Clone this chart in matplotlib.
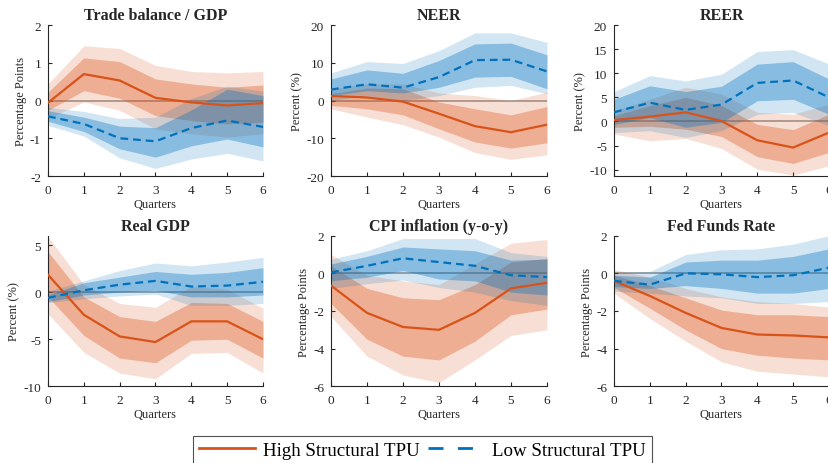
import matplotlib
matplotlib.use("Agg")
import matplotlib.pyplot as plt
from matplotlib.lines import Line2D

plt.rcParams['font.family'] = ['Liberation Serif', 'DejaVu Serif']
plt.rcParams['axes.unicode_minus'] = False

quarters = [0, 1, 2, 3, 4, 5, 6]

titles = ["Trade balance / GDP", "NEER", "REER", "Real GDP", "CPI inflation (y-o-y)", "Fed Funds Rate"]
ylabels = ["Percentage Points", "Percent (%)", "Percent (%)", "Percent (%)", "Percentage Points", "Percentage Points"]
series_names = ["High Structural TPU", "Low Structural TPU"]

# ---- Trade balance / GDP ----
tb_high = [-0.06, 0.70, 0.53, 0.07, -0.05, -0.13, -0.07]
tb_high_in_lo = [-0.26, 0.26, 0.06, -0.40, -0.53, -0.62, -0.57]
tb_high_in_hi = [0.22, 1.13, 1.03, 0.57, 0.44, 0.35, 0.41]
tb_high_out_lo = [-0.48, -0.04, -0.26, -0.75, -0.88, -0.97, -0.88]
tb_high_out_hi = [0.44, 1.45, 1.38, 0.93, 0.77, 0.73, 0.77]
tb_low = [-0.42, -0.62, -1.00, -1.08, -0.73, -0.53, -0.70]
tb_low_in_lo = [-0.55, -0.82, -1.28, -1.50, -1.20, -1.02, -1.23]
tb_low_in_hi = [-0.27, -0.44, -0.68, -0.72, -0.25, 0.30, 0.13]
tb_low_out_lo = [-0.66, -0.94, -1.52, -1.80, -1.55, -1.40, -1.60]
tb_low_out_hi = [-0.18, -0.29, -0.48, -0.44, 0.05, 0.38, 0.25]

# ---- NEER ----
ne_high = [1.2, 0.8, -0.3, -3.5, -6.8, -8.4, -6.4]
ne_high_in_lo = [-1.3, -2.2, -3.8, -7.5, -11.0, -12.6, -11.2]
ne_high_in_hi = [1.8, 3.3, 3.1, -0.4, -2.2, -3.8, -1.6]
ne_high_out_lo = [-2.2, -4.4, -6.4, -9.7, -13.8, -15.6, -14.4]
ne_high_out_hi = [3.1, 4.4, 4.4, 2.0, 1.3, 0.0, 2.2]
ne_low = [2.9, 4.3, 3.4, 6.2, 10.7, 10.8, 7.7]
ne_low_in_lo = [1.3, 2.6, 2.0, 3.5, 6.2, 6.4, 3.1]
ne_low_in_hi = [5.7, 8.1, 7.2, 10.6, 15.0, 15.2, 12.1]
ne_low_out_lo = [0.0, 1.3, 0.0, 1.3, 3.5, 4.0, 1.8]
ne_low_out_hi = [7.3, 10.3, 9.8, 13.2, 17.9, 17.9, 15.4]

# ---- REER ----
re_high = [0.3, 1.0, 1.9, 0.1, -3.9, -5.4, -2.3]
re_high_in_lo = [-1.2, -1.0, -1.6, -3.1, -7.3, -8.7, -6.4]
re_high_in_hi = [1.2, 3.3, 5.0, 3.3, -0.6, -1.7, 1.5]
re_high_out_lo = [-2.6, -4.0, -3.5, -5.6, -9.9, -11.1, -9.2]
re_high_out_hi = [2.2, 4.6, 7.1, 5.7, 1.9, 1.5, 3.6]
re_low = [1.9, 3.9, 2.4, 3.5, 8.0, 8.5, 5.0]
re_low_in_lo = [-0.6, 0.8, -1.2, -0.2, 4.3, 4.6, 1.5]
re_low_in_hi = [4.6, 7.4, 6.2, 7.3, 11.9, 12.4, 8.8]
re_low_out_lo = [-2.3, -1.9, -3.3, -1.9, 1.5, 1.9, -0.9]
re_low_out_hi = [6.2, 9.5, 8.4, 9.8, 14.5, 14.9, 11.9]

# ---- Real GDP ----
gd_high = [1.85, -2.4, -4.7, -5.3, -3.1, -3.1, -5.0]
gd_high_in_lo = [-0.5, -4.6, -7.0, -7.5, -5.1, -5.0, -7.0]
gd_high_in_hi = [4.3, -0.5, -2.6, -3.1, -1.1, -1.2, -3.1]
gd_high_out_lo = [-2.3, -6.4, -8.6, -9.2, -6.5, -6.4, -8.6]
gd_high_out_hi = [5.9, 0.8, -1.2, -1.6, 0.6, 0.3, -1.7]
gd_low = [-0.6, 0.2, 0.8, 1.2, 0.6, 0.7, 1.1]
gd_low_in_lo = [-1.0, -0.3, 0.0, 0.2, -0.5, -0.5, -0.3]
gd_low_in_hi = [-0.3, 1.0, 1.6, 2.2, 1.9, 2.1, 2.6]
gd_low_out_lo = [-1.1, -0.7, -0.4, -0.2, -1.4, -1.4, -1.2]
gd_low_out_hi = [0.1, 1.2, 2.3, 3.1, 2.8, 3.2, 3.7]

# ---- CPI inflation ----
cp_high = [-0.65, -2.1, -2.85, -3.0, -2.1, -0.8, -0.5]
cp_high_in_lo = [-1.6, -3.5, -4.4, -4.6, -3.6, -2.2, -1.9]
cp_high_in_hi = [0.4, -0.8, -1.3, -1.4, -0.6, 0.6, 0.8]
cp_high_out_lo = [-2.3, -4.4, -5.4, -5.8, -4.6, -3.3, -3.0]
cp_high_out_hi = [1.0, -0.1, -0.4, -0.6, 0.5, 1.6, 1.8]
cp_low = [0.05, 0.4, 0.8, 0.6, 0.4, -0.1, -0.2]
cp_low_in_lo = [-0.4, -0.2, 0.15, -0.3, -0.4, -1.0, -1.15]
cp_low_in_hi = [0.5, 0.9, 1.4, 1.3, 1.2, 0.7, 0.75]
cp_low_out_lo = [-0.8, -0.55, -0.35, -0.75, -1.0, -1.45, -1.7]
cp_low_out_hi = [0.75, 1.2, 1.85, 1.85, 1.85, 1.1, 0.9]

# ---- Fed Funds Rate ----
ff_high = [-0.4, -1.2, -2.1, -2.9, -3.25, -3.3, -3.4]
ff_high_in_lo = [-0.75, -1.85, -3.0, -4.0, -4.35, -4.5, -4.6]
ff_high_in_hi = [-0.1, -0.65, -1.3, -1.95, -2.2, -2.2, -2.3]
ff_high_out_lo = [-1.05, -2.4, -3.6, -4.7, -5.2, -5.35, -5.5]
ff_high_out_hi = [0.2, -0.2, -0.8, -1.25, -1.5, -1.6, -1.8]
ff_low = [-0.4, -0.6, 0.0, -0.05, -0.2, -0.1, 0.3]
ff_low_in_lo = [-0.7, -0.8, -0.65, -0.8, -1.05, -1.05, -0.8]
ff_low_in_hi = [-0.1, -0.2, 0.6, 0.7, 0.7, 0.9, 1.3]
ff_low_out_lo = [-0.95, -1.05, -1.2, -1.3, -1.6, -1.6, -1.5]
ff_low_out_hi = [0.05, 0.1, 1.0, 1.25, 1.3, 1.55, 2.0]

panels = [
    (tb_high, tb_high_in_lo, tb_high_in_hi, tb_high_out_lo, tb_high_out_hi,
     tb_low, tb_low_in_lo, tb_low_in_hi, tb_low_out_lo, tb_low_out_hi),
    (ne_high, ne_high_in_lo, ne_high_in_hi, ne_high_out_lo, ne_high_out_hi,
     ne_low, ne_low_in_lo, ne_low_in_hi, ne_low_out_lo, ne_low_out_hi),
    (re_high, re_high_in_lo, re_high_in_hi, re_high_out_lo, re_high_out_hi,
     re_low, re_low_in_lo, re_low_in_hi, re_low_out_lo, re_low_out_hi),
    (gd_high, gd_high_in_lo, gd_high_in_hi, gd_high_out_lo, gd_high_out_hi,
     gd_low, gd_low_in_lo, gd_low_in_hi, gd_low_out_lo, gd_low_out_hi),
    (cp_high, cp_high_in_lo, cp_high_in_hi, cp_high_out_lo, cp_high_out_hi,
     cp_low, cp_low_in_lo, cp_low_in_hi, cp_low_out_lo, cp_low_out_hi),
    (ff_high, ff_high_in_lo, ff_high_in_hi, ff_high_out_lo, ff_high_out_hi,
     ff_low, ff_low_in_lo, ff_low_in_hi, ff_low_out_lo, ff_low_out_hi),
]

ylims = [(-2, 2), (-20, 20), (-11.3, 20), (-10, 6), (-6, 2), (-6, 2)]
yticks = [[-2, -1, 0, 1, 2], [-20, -10, 0, 10, 20], [-10, -5, 0, 5, 10, 15, 20],
          [-10, -5, 0, 5], [-6, -4, -2, 0, 2], [-6, -4, -2, 0, 2]]

ORANGE = '#D95319'
BLUE = '#0072BD'
AXC = '#262626'

W, H = 829, 464
fig = plt.figure(figsize=(W / 100, H / 100), dpi=100)

lefts = [48, 331, 614]
widths = [215, 216, 215]
tops = [26, 236.7]
heights = [151, 150.6]

for i in range(6):
    r, c = divmod(i, 3)
    ax = fig.add_axes([lefts[c] / W, 1 - (tops[r] + heights[r]) / H,
                       widths[c] / W, heights[r] / H])
    (h, hil, hih, hol, hoh, l, lil, lih, lol, loh) = panels[i]
    ax.axhline(0, color='#999999', lw=1.2, zorder=1)
    ax.fill_between(quarters, hol, hoh, color=ORANGE, alpha=0.18, lw=0, zorder=2)
    ax.fill_between(quarters, hil, hih, color=ORANGE, alpha=0.35, lw=0, zorder=2)
    ax.fill_between(quarters, lol, loh, color=BLUE, alpha=0.18, lw=0, zorder=2)
    ax.fill_between(quarters, lil, lih, color=BLUE, alpha=0.35, lw=0, zorder=2)
    ax.plot(quarters, h, color=ORANGE, lw=1.6, zorder=4)
    ax.plot(quarters, l, color=BLUE, lw=1.6, dashes=(3.5, 2.2), zorder=4)
    ax.set_xlim(0, 6)
    ax.set_ylim(*ylims[i])
    ax.set_xticks(quarters)
    ax.set_yticks(yticks[i])
    ax.set_title(titles[i], fontsize=11.5, fontweight='bold', pad=4, color=AXC)
    ax.set_xlabel("Quarters", fontsize=9, color=AXC, labelpad=1.5)
    ax.set_ylabel(ylabels[i], fontsize=9, color=AXC, labelpad=2)
    for s in ['top', 'right']:
        ax.spines[s].set_visible(False)
    for s in ['left', 'bottom']:
        ax.spines[s].set_color(AXC)
        ax.spines[s].set_linewidth(0.8)
    ax.tick_params(direction='in', length=3, width=0.8, colors=AXC, labelsize=9.5)
    ax.tick_params(axis='x', pad=5.5)
    ax.tick_params(axis='y', pad=5)
    ax.set_facecolor('none')

handles = [Line2D([], [], color=ORANGE, lw=2),
           Line2D([], [], color=BLUE, lw=2, dashes=(5.4, 5.2))]
leg = fig.legend(handles, series_names, loc='upper left',
                 bbox_to_anchor=(193 / W, 1 - 437 / H), ncol=2, fontsize=13.6,
                 frameon=True, fancybox=False, edgecolor=AXC, handlelength=3.0,
                 handletextpad=0.4, columnspacing=0.45, borderpad=0.3,
                 borderaxespad=0)
leg.get_frame().set_linewidth(0.8)

fig.savefig("out.png", dpi=100)
